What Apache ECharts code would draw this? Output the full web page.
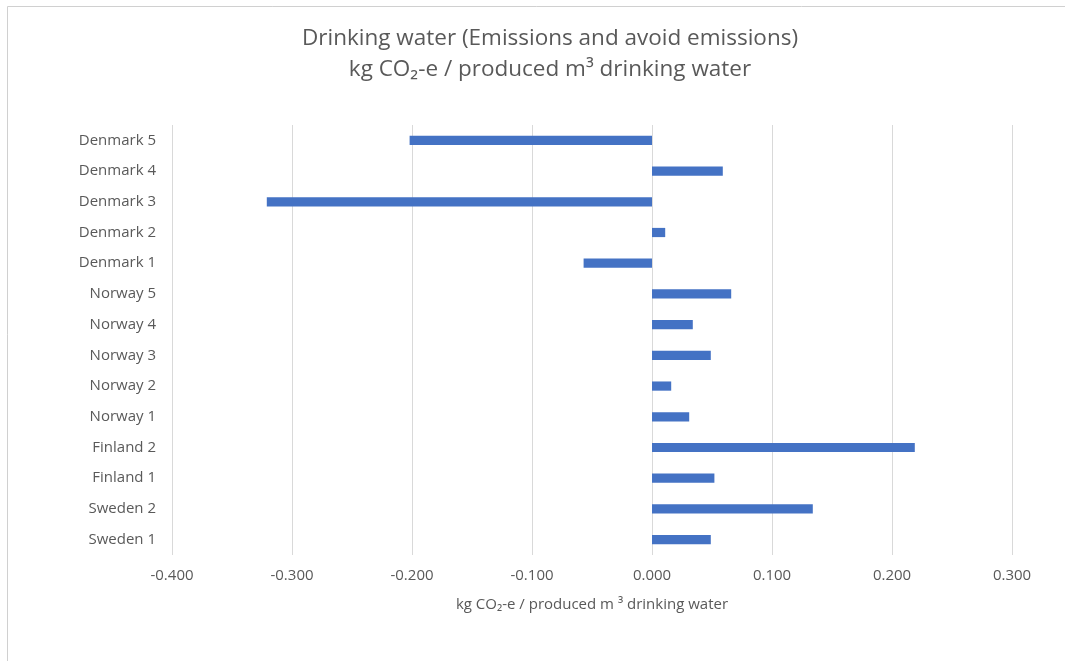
<!DOCTYPE html>
<html>
<head>
<meta charset="utf-8">
<script src="https://cdn.jsdelivr.net/npm/echarts@6/dist/echarts.min.js"></script>
<style>
html,body{margin:0;padding:0;background:#fff;}
#c{width:1065px;height:661px;}
</style>
</head>
<body>
<div id="c"></div>
<script>
const categories = ['Sweden 1','Sweden 2','Finland 1','Finland 2','Norway 1','Norway 2','Norway 3','Norway 4','Norway 5','Denmark 1','Denmark 2','Denmark 3','Denmark 4','Denmark 5'];
const values = [0.049, 0.134, 0.052, 0.219, 0.031, 0.016, 0.049, 0.034, 0.066, -0.057, 0.011, -0.321, 0.059, -0.202];
const xTicks = { min: -0.4, max: 0.3, interval: 0.1 };
const titleText = 'Drinking water (Emissions and avoid emissions)\nkg CO\u2082-e / produced m\u00b3 drinking water';
const axisName = 'kg CO\u2082-e / produced m \u00b3 drinking water';

const FONT = 'Open Sans';
const chart = echarts.init(document.getElementById('c'));
chart.setOption({
  animation: false,
  backgroundColor: '#fff',
  graphic: [{
    type: 'rect', left: 5, top: 4,
    shape: { width: 1100, height: 700 },
    style: { fill: 'none', stroke: '#d0d0d0', lineWidth: 1 },
    silent: true, z: -1
  }],
  title: {
    text: titleText,
    left: 545, top: 18, textAlign: 'center',
    textStyle: { fontFamily: FONT, fontSize: 22.5, fontWeight: 'normal', color: '#595959', lineHeight: 31 }
  },
  grid: { left: 172, right: 53, top: 125, bottom: 106, containLabel: false },
  xAxis: {
    type: 'value',
    min: xTicks.min, max: xTicks.max, interval: xTicks.interval,
    axisLine: { show: false },
    axisTick: { show: false },
    splitLine: { show: true, lineStyle: { color: '#d9d9d9', width: 1 } },
    axisLabel: {
      margin: 13,
      color: '#595959', fontFamily: FONT, fontSize: 15,
      formatter: v => v.toFixed(3)
    },
    name: axisName,
    nameLocation: 'middle',
    nameGap: 42,
    nameTextStyle: { color: '#595959', fontFamily: FONT, fontSize: 15 }
  },
  yAxis: {
    type: 'category',
    data: categories,
    axisLine: { show: false, onZero: false },
    axisTick: { show: false },
    axisLabel: { margin: 16, color: '#595959', fontFamily: FONT, fontSize: 15 }
  },
  series: [{
    type: 'bar',
    data: values,
    barWidth: '30%',
    itemStyle: { color: '#4472C4' }
  }]
});
</script>
</body>
</html>
